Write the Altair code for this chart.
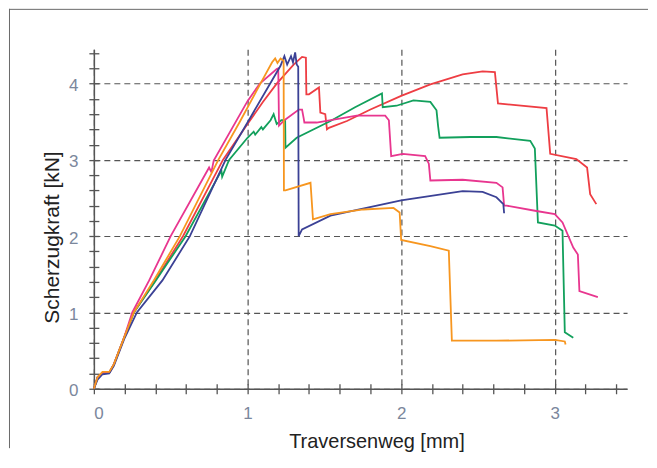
import altair as alt
import pandas as pd

# ---------------- data ----------------
SERIES = ["rot", "grün", "magenta", "blau", "orange"]
COLORS = ["#ee3d43", "#12a05c", "#e8368f", "#3b4195", "#f7961f"]

RED_X = [0, 0.024, 0.056, 0.10, 0.13, 0.197, 0.26, 0.40, 0.58, 0.84, 1.0, 1.1, 1.19, 1.3, 1.355, 1.38,
         1.383, 1.40, 1.465, 1.474, 1.506, 1.517, 1.53, 1.647, 1.8, 2.0, 2.19, 2.4, 2.53, 2.61, 2.63,
         2.946, 2.97, 3.14, 3.21, 3.23, 3.27]
RED_Y = [0, 0.15, 0.21, 0.21, 0.32, 0.67, 1.0, 1.42, 2.0, 3.0, 3.47, 3.76, 4.0, 4.25, 4.35, 4.34,
         3.86, 3.86, 3.95, 3.62, 3.6, 3.40, 3.42, 3.51, 3.66, 3.84, 3.99, 4.12, 4.16, 4.15, 3.74,
         3.68, 3.08, 3.01, 2.9, 2.55, 2.42]

GREEN_X = [0, 0.024, 0.056, 0.10, 0.13, 0.197, 0.26, 0.40, 0.597, 0.83, 0.835, 0.88, 1.0, 1.04, 1.05,
           1.09, 1.10, 1.15, 1.17, 1.19, 1.22, 1.245, 1.247, 1.32, 1.54, 1.7, 1.875, 1.88, 1.97, 2.08,
           2.19, 2.23, 2.24, 2.25, 2.45, 2.62, 2.84, 2.87, 2.89, 3.0, 3.05, 3.065, 3.12]
GREEN_Y = [0, 0.15, 0.21, 0.21, 0.32, 0.67, 1.0, 1.41, 2.0, 2.86, 2.78, 3.0, 3.29, 3.37, 3.33,
           3.43, 3.40, 3.52, 3.60, 3.47, 3.52, 3.52, 3.16, 3.29, 3.51, 3.69, 3.87, 3.69, 3.71, 3.78,
           3.76, 3.65, 3.45, 3.29, 3.30, 3.30, 3.25, 3.15, 2.18, 2.14, 2.07, 0.74, 0.67]

PINK_X = [0, 0.024, 0.056, 0.10, 0.13, 0.197, 0.25, 0.36, 0.5, 0.75, 0.765, 0.78, 1.0, 1.08, 1.19,
          1.2, 1.205, 1.24, 1.334, 1.355, 1.365, 1.37, 1.45, 1.71, 1.896, 1.92, 1.935, 2.01, 2.156,
          2.18, 2.19, 2.40, 2.62, 2.66, 2.67, 2.686, 2.88, 3.0, 3.05, 3.12, 3.15, 3.16, 3.28]
PINK_Y = [0, 0.15, 0.21, 0.21, 0.32, 0.67, 1.0, 1.42, 2.0, 2.9, 2.84, 2.99, 3.77, 4.0, 4.19,
          4.2, 3.45, 3.52, 3.66, 3.66, 3.55, 3.49, 3.49, 3.58, 3.58, 3.52, 3.05, 3.08, 3.05,
          2.95, 2.73, 2.74, 2.70, 2.64, 2.40, 2.40, 2.33, 2.29, 2.18, 1.85, 1.76, 1.28, 1.2]

BLUE_X = [0, 0.024, 0.056, 0.10, 0.13, 0.197, 0.28, 0.446, 0.625, 0.857, 1.02, 1.214, 1.24, 1.258,
          1.283, 1.296, 1.31, 1.32, 1.33, 1.333, 1.355, 1.54, 2.0, 2.4, 2.53, 2.62, 2.665, 2.67]
BLUE_Y = [0, 0.12, 0.19, 0.2, 0.3, 0.65, 1.0, 1.42, 2.0, 3.0, 3.56, 4.23, 4.36, 4.25,
          4.36, 4.28, 4.41, 4.25, 4.22, 2.0, 2.09, 2.27, 2.47, 2.59, 2.58, 2.51, 2.42, 2.3]

ORANGE_X = [0, 0.024, 0.056, 0.10, 0.13, 0.197, 0.26, 0.39, 0.56, 0.81, 0.95, 1.084, 1.16, 1.18,
            1.195, 1.215, 1.235, 1.237, 1.247, 1.41, 1.426, 1.54, 1.755, 1.95, 1.99, 2.0, 2.19,
            2.31, 2.33, 2.62, 3.0, 3.065, 3.07]
ORANGE_Y = [0, 0.15, 0.22, 0.22, 0.32, 0.67, 1.0, 1.42, 2.0, 3.0, 3.5, 4.0, 4.28, 4.33,
            4.27, 4.33, 4.30, 2.6, 2.6, 2.7, 2.22, 2.29, 2.35, 2.37, 2.31, 1.95, 1.87,
            1.81, 0.63, 0.63, 0.64, 0.62, 0.58]

X_LABELS = [0, 1, 2, 3]
Y_LABELS = [0, 1, 2, 3, 4]
X_MINOR = [round(0.2 * i, 1) for i in range(18)]
Y_MINOR = [round(0.2 * i, 1) for i in range(23)]
X_MAX, Y_MAX = 3.47, 4.45

# ---------------- table ----------------
rows = []
for name, xs, ys in zip(SERIES,
                        [RED_X, GREEN_X, PINK_X, BLUE_X, ORANGE_X],
                        [RED_Y, GREEN_Y, PINK_Y, BLUE_Y, ORANGE_Y]):
    for i, (a, b) in enumerate(zip(xs, ys)):
        rows.append({"s": name, "i": i, "x": a, "y": b})
df = pd.DataFrame(rows)

W, H = 534, 340
AX = "#555555"
LBL = "#7b879c"
LFONT = "Liberation Sans Narrow, Arial Narrow, Liberation Sans, sans-serif"
TFONT = "Liberation Sans, Arial, sans-serif"

xs = alt.Scale(domain=[0, X_MAX], nice=False, zero=False)
ys = alt.Scale(domain=[0, Y_MAX], nice=False, zero=False)

x_main = alt.Axis(orient="bottom", values=X_LABELS, ticks=False, tickSize=0,
                  domainColor=AX, domainWidth=1.5,
                  grid=True, gridColor=AX, gridDash=[6, 4], gridWidth=1.2,
                  labelFont=LFONT, labelFontSize=17, labelColor=LBL,
                  labelBaseline="alphabetic", labelPadding=30,
                  title="Traversenweg [mm]", titleFont=TFONT, titleFontSize=20,
                  titleFontWeight="normal", titleColor="#222222",
                  titleX=283, titleY=59, titleBaseline="alphabetic", titleAlign="center")
y_main = alt.Axis(orient="left", values=Y_LABELS, ticks=False, tickSize=0,
                  domainColor=AX, domainWidth=1.5,
                  grid=True, gridColor=AX, gridDash=[6, 4], gridWidth=1.2,
                  labelFont=LFONT, labelFontSize=17, labelColor=LBL,
                  labelPadding=16, labelOffset=2,
                  title="Scherzugkraft [kN]", titleFont=TFONT, titleFontSize=21,
                  titleFontWeight="normal", titleColor="#222222",
                  titleX=-35, titleY=188, titleBaseline="alphabetic", titleAlign="center",
                  titleAngle=270)

x_ticks = alt.Axis(orient="bottom", values=X_MINOR, labels=False, domain=False, grid=False,
                   ticks=True, tickSize=10, tickColor=AX, tickWidth=1.3, offset=-5, title=None)
y_ticks = alt.Axis(orient="left", values=Y_MINOR, labels=False, domain=False, grid=False,
                   ticks=True, tickSize=10, tickColor=AX, tickWidth=1.3, offset=-5, title=None)

lines = alt.Chart(df).mark_line(strokeWidth=1.8).encode(
    x=alt.X("x:Q", scale=xs, axis=x_main),
    y=alt.Y("y:Q", scale=ys, axis=y_main),
    color=alt.Color("s:N", scale=alt.Scale(domain=SERIES, range=COLORS), legend=None),
    order=alt.Order("i:Q"),
)

ticks = alt.Chart(df).mark_point(opacity=0).encode(
    x=alt.X("x:Q", scale=xs, axis=x_ticks),
    y=alt.Y("y:Q", scale=ys, axis=y_ticks),
)

frame_df = pd.DataFrame({"k": [0]})
top_rule = alt.Chart(frame_df).mark_rule(color="#6a6a6a", strokeWidth=1).encode(
    x=alt.value(-85), x2=alt.value(555), y=alt.value(-40))
left_rule = alt.Chart(frame_df).mark_rule(color="#6a6a6a", strokeWidth=1).encode(
    x=alt.value(-84.5), y=alt.value(-40.5), y2=alt.value(399.5))

chart = alt.layer(ticks, lines, top_rule, left_rule).resolve_axis(
    x="independent", y="independent"
).properties(width=W, height=H, padding=0).configure_view(stroke=None)

chart.save("out.html", embed_options={"renderer": "svg", "actions": False})
